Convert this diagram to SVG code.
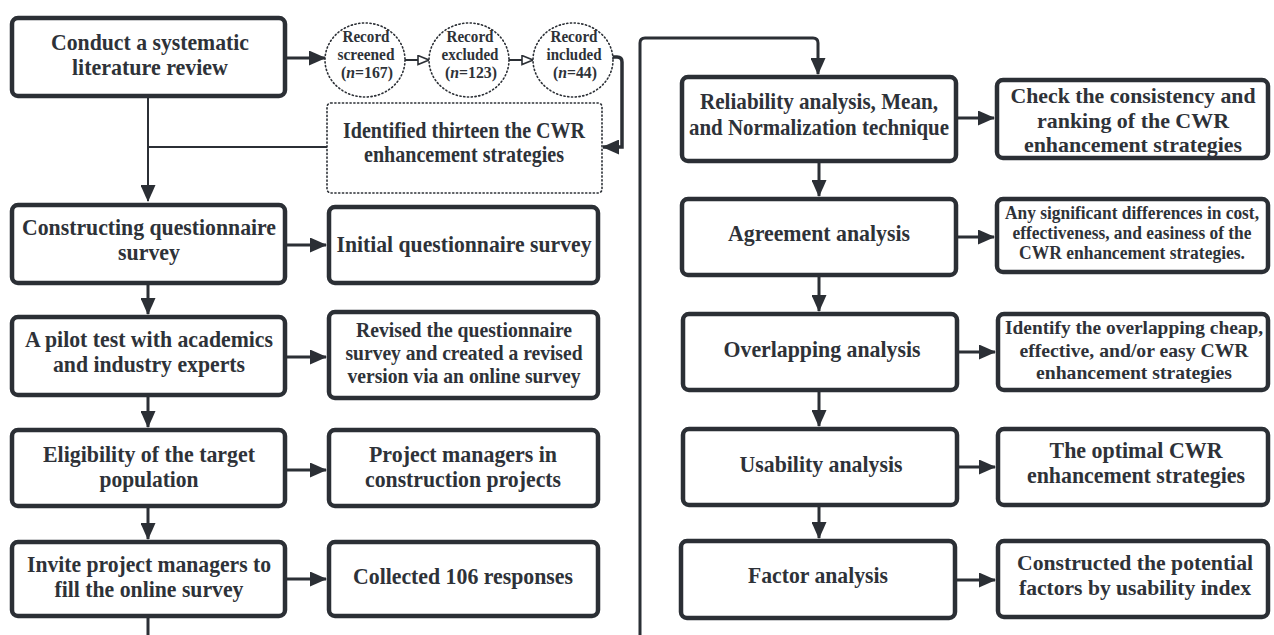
<svg xmlns="http://www.w3.org/2000/svg" width="1274" height="635" viewBox="0 0 1274 635">
<defs>
<marker id="ah" markerUnits="userSpaceOnUse" markerWidth="17" markerHeight="15" refX="16" refY="7.5" orient="auto">
<path d="M0,0 L17,7.5 L0,15 z" fill="#2b2f35"/>
</marker>
<marker id="oh" markerUnits="userSpaceOnUse" markerWidth="13" markerHeight="11" refX="12" refY="5.5" orient="auto">
<path d="M1,1 L12,5.5 L1,10 z" fill="#fff" stroke="#2b2f35" stroke-width="1.6"/>
</marker>
<style>
.box{fill:#fff;stroke:#2b2f35;stroke-width:4.5}
.dot{fill:#fff;stroke:#2b2f35;stroke-width:1.6;stroke-dasharray:1.2 2.6;stroke-linecap:round}
.t{font-family:"Liberation Serif","Times New Roman",serif;font-weight:bold;fill:#2e3238;text-anchor:middle}
.f22{font-size:24px}
.f21{font-size:22px}
.f20{font-size:21px}
.f19{font-size:19.5px}
.f18{font-size:18px}
.f15{font-size:16.5px}
.c{fill:none;stroke:#2b2f35;stroke-width:3}
.thin{fill:none;stroke:#2b2f35;stroke-width:2}
</style>
</defs>
<rect width="1274" height="635" fill="#fff"/>

<g id="connectors">
<line class="c" x1="287" y1="58" x2="325" y2="58" marker-end="url(#ah)"/>
<line class="thin" x1="405" y1="60" x2="429" y2="60" marker-end="url(#oh)"/>
<line class="thin" x1="509" y1="60" x2="533" y2="60" marker-end="url(#oh)"/>
<path class="c" style="stroke-width:3.5" d="M612,57 H617 Q622,57 622,62 V147 H603" marker-end="url(#ah)"/>
<line class="thin" x1="327" y1="147" x2="148" y2="147"/>
<line class="thin" x1="148" y1="98" x2="148" y2="201" marker-end="url(#ah)"/>
<line class="c" x1="148" y1="285" x2="148" y2="314" marker-end="url(#ah)"/>
<line class="c" x1="148" y1="397" x2="148" y2="427" marker-end="url(#ah)"/>
<line class="c" x1="148" y1="508" x2="148" y2="539" marker-end="url(#ah)"/>
<line class="c" x1="148" y1="618" x2="148" y2="635"/>
<line class="c" x1="287" y1="245" x2="326" y2="245" marker-end="url(#ah)"/>
<line class="c" x1="287" y1="357" x2="326" y2="357" marker-end="url(#ah)"/>
<line class="c" x1="287" y1="470" x2="326" y2="470" marker-end="url(#ah)"/>
<line class="c" x1="287" y1="579" x2="326" y2="579" marker-end="url(#ah)"/>
<path class="c" d="M640,635 V43 Q640,38 645,38 H813 Q818,38 818,43 V74" marker-end="url(#ah)"/>
<line class="c" x1="819" y1="163" x2="819" y2="196" marker-end="url(#ah)"/>
<line class="c" x1="819" y1="277" x2="819" y2="311" marker-end="url(#ah)"/>
<line class="c" x1="819" y1="392" x2="819" y2="426" marker-end="url(#ah)"/>
<line class="c" x1="819" y1="507" x2="819" y2="538" marker-end="url(#ah)"/>
<line class="c" x1="958" y1="118" x2="994" y2="118" marker-end="url(#ah)"/>
<line class="c" x1="958" y1="237" x2="994" y2="237" marker-end="url(#ah)"/>
<line class="c" x1="958" y1="352" x2="995" y2="352" marker-end="url(#ah)"/>
<line class="c" x1="958" y1="467" x2="995" y2="467" marker-end="url(#ah)"/>
<line class="c" x1="957" y1="580" x2="995" y2="580" marker-end="url(#ah)"/>
</g>

<g id="n-review">
<rect class="box" x="12" y="18" width="273" height="78" rx="6"/>
<text class="t f22" x="150" y="50" textLength="198" lengthAdjust="spacingAndGlyphs">Conduct a systematic</text>
<text class="t f22" x="150" y="75" textLength="156" lengthAdjust="spacingAndGlyphs">literature review</text>
</g>

<g id="n-screened">
<ellipse class="dot" cx="365" cy="60" rx="40" ry="37"/>
<text class="t f15" x="366" y="42" textLength="47" lengthAdjust="spacingAndGlyphs">Record</text>
<text class="t f15" x="366" y="60" textLength="57" lengthAdjust="spacingAndGlyphs">screened</text>
<text class="t f15" x="367" y="78" textLength="52" lengthAdjust="spacingAndGlyphs">(<tspan font-style="italic">n</tspan>=167)</text>
</g>
<g id="n-excluded">
<ellipse class="dot" cx="469" cy="60" rx="40" ry="37"/>
<text class="t f15" x="470" y="42" textLength="47" lengthAdjust="spacingAndGlyphs">Record</text>
<text class="t f15" x="470" y="60" textLength="57" lengthAdjust="spacingAndGlyphs">excluded</text>
<text class="t f15" x="471" y="78" textLength="52" lengthAdjust="spacingAndGlyphs">(<tspan font-style="italic">n</tspan>=123)</text>
</g>
<g id="n-included">
<ellipse class="dot" cx="573" cy="60" rx="40" ry="37"/>
<text class="t f15" x="574" y="42" textLength="47" lengthAdjust="spacingAndGlyphs">Record</text>
<text class="t f15" x="574" y="60" textLength="55" lengthAdjust="spacingAndGlyphs">included</text>
<text class="t f15" x="575" y="78" textLength="44" lengthAdjust="spacingAndGlyphs">(<tspan font-style="italic">n</tspan>=44)</text>
</g>

<g id="n-identified">
<rect class="dot" x="327" y="103" width="275" height="90" rx="4"/>
<text class="t f22" x="464" y="138" textLength="242" lengthAdjust="spacingAndGlyphs">Identified thirteen the CWR</text>
<text class="t f22" x="464" y="162" textLength="200" lengthAdjust="spacingAndGlyphs">enhancement strategies</text>
</g>

<g id="n-constructing">
<rect class="box" x="12" y="205" width="273" height="78" rx="6"/>
<text class="t f22" x="149" y="235" textLength="254" lengthAdjust="spacingAndGlyphs">Constructing questionnaire</text>
<text class="t f22" x="149" y="260" textLength="62" lengthAdjust="spacingAndGlyphs">survey</text>
</g>
<g id="n-initial">
<rect class="box" x="329" y="207" width="269" height="76" rx="6"/>
<text class="t f22" x="464" y="252" textLength="255" lengthAdjust="spacingAndGlyphs">Initial questionnaire survey</text>
</g>

<g id="n-pilot">
<rect class="box" x="12" y="317" width="273" height="78" rx="6"/>
<text class="t f22" x="149" y="347" textLength="248" lengthAdjust="spacingAndGlyphs">A pilot test with academics</text>
<text class="t f22" x="149" y="372" textLength="192" lengthAdjust="spacingAndGlyphs">and industry experts</text>
</g>
<g id="n-revised">
<rect class="box" x="329" y="312" width="269" height="86" rx="6"/>
<text class="t f20" x="464" y="337" textLength="216" lengthAdjust="spacingAndGlyphs">Revised the questionnaire</text>
<text class="t f20" x="464" y="360" textLength="237" lengthAdjust="spacingAndGlyphs">survey and created a revised</text>
<text class="t f20" x="464" y="383" textLength="233" lengthAdjust="spacingAndGlyphs">version via an online survey</text>
</g>

<g id="n-eligibility">
<rect class="box" x="12" y="430" width="273" height="76" rx="6"/>
<text class="t f22" x="149" y="462" textLength="212" lengthAdjust="spacingAndGlyphs">Eligibility of the target</text>
<text class="t f22" x="149" y="487" textLength="99" lengthAdjust="spacingAndGlyphs">population</text>
</g>
<g id="n-pm">
<rect class="box" x="329" y="430" width="269" height="76" rx="6"/>
<text class="t f22" x="463" y="462" textLength="188" lengthAdjust="spacingAndGlyphs">Project managers in</text>
<text class="t f22" x="463" y="487" textLength="196" lengthAdjust="spacingAndGlyphs">construction projects</text>
</g>

<g id="n-invite">
<rect class="box" x="12" y="542" width="273" height="74" rx="6"/>
<text class="t f22" x="149" y="572" textLength="244" lengthAdjust="spacingAndGlyphs">Invite project managers to</text>
<text class="t f22" x="149" y="597" textLength="189" lengthAdjust="spacingAndGlyphs">fill the online survey</text>
</g>
<g id="n-collected">
<rect class="box" x="329" y="542" width="269" height="74" rx="6"/>
<text class="t f22" x="463" y="584" textLength="220" lengthAdjust="spacingAndGlyphs">Collected 106 responses</text>
</g>

<g id="n-reliability">
<rect class="box" x="682" y="77" width="274" height="84" rx="6"/>
<text class="t f22" x="819" y="109" textLength="238" lengthAdjust="spacingAndGlyphs">Reliability analysis, Mean,</text>
<text class="t f22" x="819" y="135" textLength="260" lengthAdjust="spacingAndGlyphs">and Normalization technique</text>
</g>
<g id="n-check">
<rect class="box" x="997" y="80" width="271" height="78" rx="6"/>
<text class="t f21" x="1133" y="103" textLength="245" lengthAdjust="spacingAndGlyphs">Check the consistency and</text>
<text class="t f21" x="1133" y="128" textLength="192" lengthAdjust="spacingAndGlyphs">ranking of the CWR</text>
<text class="t f21" x="1133" y="152" textLength="218" lengthAdjust="spacingAndGlyphs">enhancement strategies</text>
</g>

<g id="n-agreement">
<rect class="box" x="682" y="199" width="274" height="76" rx="6"/>
<text class="t f22" x="819" y="241" textLength="182" lengthAdjust="spacingAndGlyphs">Agreement analysis</text>
</g>
<g id="n-any">
<rect class="box" x="997" y="199" width="271" height="73" rx="6"/>
<text class="t f18" x="1132" y="219" textLength="254" lengthAdjust="spacingAndGlyphs">Any significant differences in cost,</text>
<text class="t f18" x="1132" y="239" textLength="239" lengthAdjust="spacingAndGlyphs">effectiveness, and easiness of the</text>
<text class="t f18" x="1132" y="259" textLength="226" lengthAdjust="spacingAndGlyphs">CWR enhancement strategies.</text>
</g>

<g id="n-overlapping">
<rect class="box" x="683" y="314" width="274" height="76" rx="6"/>
<text class="t f22" x="822" y="357" textLength="197" lengthAdjust="spacingAndGlyphs">Overlapping analysis</text>
</g>
<g id="n-identify">
<rect class="box" x="998" y="314" width="270" height="76" rx="6"/>
<text class="t f19" x="1134" y="334" textLength="258" lengthAdjust="spacingAndGlyphs">Identify the overlapping cheap,</text>
<text class="t f19" x="1134" y="357" textLength="229" lengthAdjust="spacingAndGlyphs">effective, and/or easy CWR</text>
<text class="t f19" x="1134" y="379" textLength="196" lengthAdjust="spacingAndGlyphs">enhancement strategies</text>
</g>

<g id="n-usability">
<rect class="box" x="683" y="429" width="274" height="76" rx="6"/>
<text class="t f22" x="821" y="472" textLength="163" lengthAdjust="spacingAndGlyphs">Usability analysis</text>
</g>
<g id="n-optimal">
<rect class="box" x="998" y="429" width="270" height="76" rx="6"/>
<text class="t f22" x="1136" y="458" textLength="173" lengthAdjust="spacingAndGlyphs">The optimal CWR</text>
<text class="t f22" x="1136" y="483" textLength="218" lengthAdjust="spacingAndGlyphs">enhancement strategies</text>
</g>

<g id="n-factor">
<rect class="box" x="681" y="541" width="274" height="77" rx="6"/>
<text class="t f22" x="818" y="583" textLength="140" lengthAdjust="spacingAndGlyphs">Factor analysis</text>
</g>
<g id="n-constructed">
<rect class="box" x="998" y="541" width="270" height="76" rx="6"/>
<text class="t f21" x="1135" y="570" textLength="236" lengthAdjust="spacingAndGlyphs">Constructed the potential</text>
<text class="t f21" x="1135" y="595" textLength="232" lengthAdjust="spacingAndGlyphs">factors by usability index</text>
</g>
</svg>
